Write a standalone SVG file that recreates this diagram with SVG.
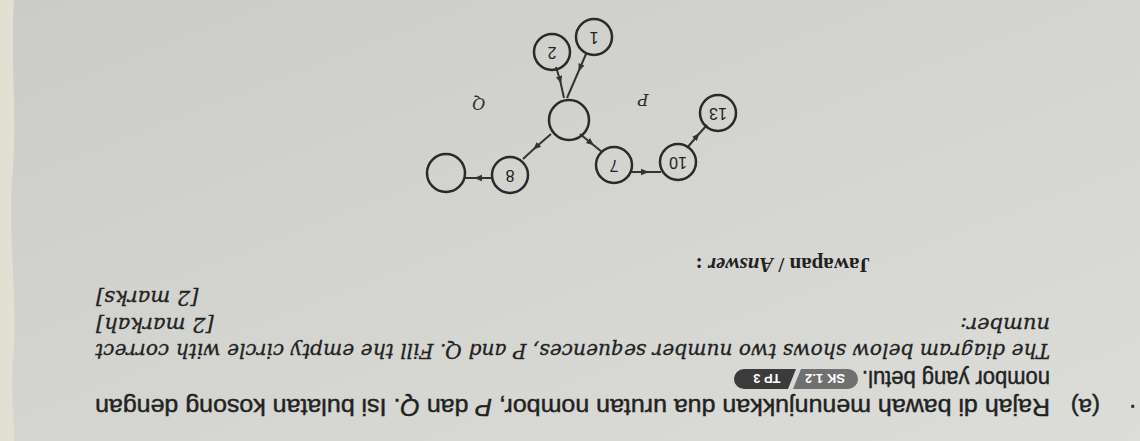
<svg xmlns="http://www.w3.org/2000/svg" width="1140" height="441" viewBox="0 0 1140 441">
<defs>
<linearGradient id="bg" x1="0" y1="0" x2="1" y2="1">
<stop offset="0" stop-color="#cbccc7"/>
<stop offset="0.5" stop-color="#d4d5d0"/>
<stop offset="1" stop-color="#dcddd9"/>
</linearGradient>
<marker id="arr" viewBox="0 0 10 10" refX="5" refY="5" markerWidth="8" markerHeight="8" markerUnits="userSpaceOnUse" orient="auto">
<path d="M0,1 L10,5 L0,9 z" fill="#333"/>
</marker>
<style>
.t{font-family:"Liberation Sans",Arial,sans-serif;font-size:24px;fill:#222;stroke:#222;stroke-width:0.45}
.i{font-style:italic}
.e{font-family:"DejaVu Serif","Liberation Serif",serif;font-style:italic;font-size:21px;fill:#222;stroke:#222;stroke-width:0.3}
.b{font-family:"Liberation Serif","Times New Roman",serif;font-weight:bold;font-size:21px;fill:#222}
.badge{font-family:"Liberation Sans",Arial,sans-serif;font-weight:bold;font-size:13px;fill:#ffffff}
.node circle{fill:none;stroke:#2a2a2a;stroke-width:2.5}
.node text{font-family:"Liberation Sans",Arial,sans-serif;font-size:16px;text-anchor:middle;fill:#222}
.edge{fill:none;stroke:#333;stroke-width:2;marker-mid:url(#arr)}
.lbl{font-family:"DejaVu Serif","Liberation Serif",serif;font-style:italic;font-size:16px;fill:#2a2a2a;text-anchor:middle}
</style>
</defs>
<rect width="1140" height="441" fill="url(#bg)"/>
<path d="M0,0 L14,0 C10,60 18,120 12,180 C8,240 18,300 13,360 C10,400 16,430 14,441 L0,441 Z" fill="#e2dfd3"/>
<g transform="rotate(180 570 220.5)">
<g id="text">
<text class="t" x="4" y="36">.</text>
<text class="t" x="40" y="42">(a)</text>
<text class="t" x="90" y="42" textLength="955" lengthAdjust="spacingAndGlyphs">Rajah di bawah menunjukkan dua urutan nombor, <tspan class="i">P</tspan> dan <tspan class="i">Q</tspan>. Isi bulatan kosong dengan</text>
<text class="t" x="90" y="70" textLength="188" lengthAdjust="spacingAndGlyphs">nombor yang betul.</text>
<g id="badge">
<path d="M292,52 L347,52 L339,72 L292,72 A10,10 0 0 1 292,52 Z" fill="#707070"/>
<path d="M352,52 L396,52 A10,10 0 0 1 396,72 L344,72 Z" fill="#3b3b3b"/>
<text class="badge" x="315" y="67" text-anchor="middle">SK 1.2</text>
<text class="badge" x="373" y="67" text-anchor="middle">TP 3</text>
</g>
<text class="e" x="90" y="97" textLength="955" lengthAdjust="spacingAndGlyphs">The diagram below shows two number sequences, P and Q. Fill the empty circle with correct</text>
<text class="e" x="90" y="123">number:</text>
<text class="e" x="1044" y="123" text-anchor="end">[2 markah]</text>
<text class="e" x="1044" y="150" text-anchor="end">[2 marks]</text>
<text class="b" x="270" y="183">Jawapan / <tspan class="i">Answer</tspan> :</text>
</g>
<g id="connectors">
<path class="edge" d="M554,387 L560,373 L573,343"/>
<path class="edge" d="M584,374 L580,361 L576,343"/>
<path class="edge" d="M560,307 L549,298 L538,289"/>
<path class="edge" d="M509,269 L495,269 L479,269"/>
<path class="edge" d="M453,293 L443,305 L433,316"/>
<path class="edge" d="M589,307 L604,294 L617,282"/>
<path class="edge" d="M648,263 L662,263 L676,263"/>
</g>
<g id="node-1" class="node"><circle cx="546" cy="404" r="18"/><text x="546" y="409.5">1</text></g>
<g id="node-2" class="node"><circle cx="588" cy="389" r="18"/><text x="588" y="394.5">2</text></g>
<g id="node-center" class="node"><circle cx="571" cy="321" r="20"/></g>
<g id="node-7" class="node"><circle cx="526" cy="276" r="18"/><text x="526" y="281.5">7</text></g>
<g id="node-10" class="node"><circle cx="462" cy="279" r="18"/><text x="462" y="284.5">10</text></g>
<g id="node-13" class="node"><circle cx="422" cy="328" r="18"/><text x="422" y="333.5">13</text></g>
<g id="node-8" class="node"><circle cx="630" cy="266" r="18"/><text x="630" y="271.5">8</text></g>
<g id="node-empty" class="node"><circle cx="694" cy="268" r="19"/></g>
<g id="labels">
<text class="lbl" x="497" y="347">P</text>
<text class="lbl" x="661" y="343">Q</text>
</g>
</g>
</svg>
